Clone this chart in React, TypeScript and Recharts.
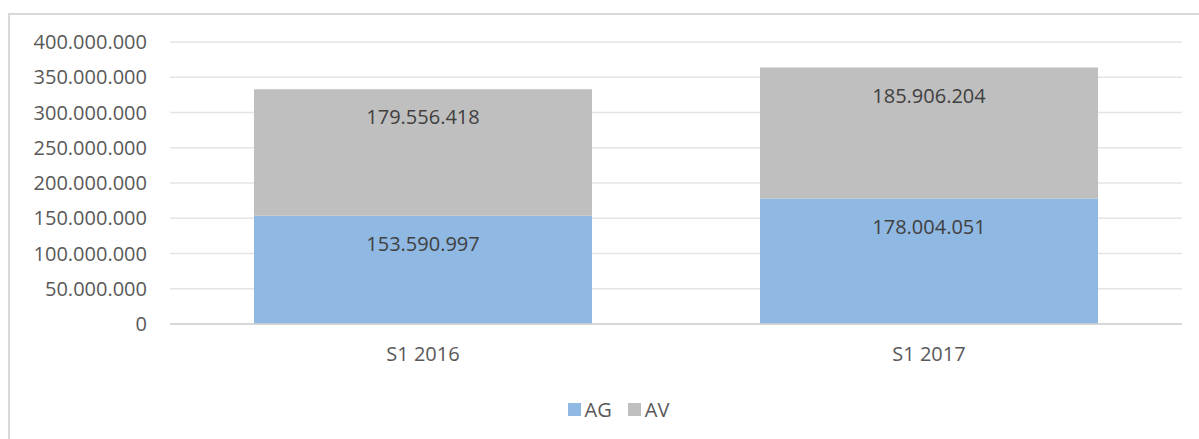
import React from "react";
import {
  BarChart,
  Bar,
  XAxis,
  YAxis,
  CartesianGrid,
  Legend,
  LabelList,
} from "recharts";

const periods = ["S1 2016", "S1 2017"];
const agValues = [153590997, 178004051];
const avValues = [179556418, 185906204];
const yTicks = [0, 50000000, 100000000, 150000000, 200000000, 250000000, 300000000, 350000000, 400000000];

const seriesColors: Record<string, string> = {
  AG: "#8FB8E2",
  AV: "#BFBFBF",
};

const chartData = periods.map((p, i) => ({
  period: p,
  AG: agValues[i],
  AV: avValues[i],
}));

// dotted thousands, like 153.590.997
const fmt = (v: any) =>
  String(Math.round(Number(v))).replace(/\B(?=(\d{3})+(?!\d))/g, ".");

const FONT = "'Open Sans', 'DejaVu Sans', sans-serif";

const renderLegend = () => (
  <div
    style={{
      display: "flex",
      justifyContent: "center",
      gap: 16,
      fontFamily: FONT,
      fontSize: 20,
      color: "#595959",
      paddingLeft: 28,
    }}
  >
    {Object.keys(seriesColors).map((name) => (
      <div key={name} style={{ display: "flex", alignItems: "center", gap: 4 }}>
        <span
          style={{
            display: "inline-block",
            width: 13,
            height: 13,
            background: seriesColors[name],
          }}
        />
        <span>{name}</span>
      </div>
    ))}
  </div>
);

const App: React.FC = () => {
  return (
    <div
      style={{
        position: "absolute",
        left: 8,
        top: 13,
        width: 1191,
        height: 426,
        borderLeft: "2px solid #D9D9D9",
        borderTop: "2px solid #D9D9D9",
        background: "#fff",
        overflow: "hidden",
      }}
    >
      <BarChart
        width={1189}
        height={424}
        data={chartData}
        margin={{ top: 27, right: 17, left: 0, bottom: 85 }}
        barCategoryGap="16.6%"
      >
        <CartesianGrid vertical={false} stroke="#E4E4E4" strokeWidth={1.5} />
        <XAxis
          dataKey="period"
          height={30}
          axisLine={{ stroke: "#D0D0D0", strokeWidth: 1.5 }}
          tickLine={false}
          tickSize={0}
          tickMargin={23}
          tick={{ fill: "#595959", fontSize: 20, fontFamily: FONT }}
        />
        <YAxis
          width={160}
          domain={[0, 400000000]}
          ticks={yTicks}
          axisLine={false}
          tickLine={false}
          tickSize={0}
          tickMargin={23}
          tickFormatter={fmt}
          tick={{ fill: "#595959", fontSize: 20, fontFamily: FONT }}
        />
        <Legend
          layout="horizontal"
          verticalAlign="middle"
          align="center"
          content={renderLegend}
          wrapperStyle={{ top: 381, left: 0, width: 1189 }}
        />
        <Bar dataKey="AG" stackId="a" fill={seriesColors.AG} isAnimationActive={false}>
          <LabelList
            dataKey="AG"
            position="insideTop"
            offset={21}
            formatter={fmt}
            style={{ fill: "#404040", fontSize: 20, fontFamily: FONT }}
          />
        </Bar>
        <Bar dataKey="AV" stackId="a" fill={seriesColors.AV} isAnimationActive={false}>
          <LabelList
            dataKey="AV"
            position="insideTop"
            offset={21}
            formatter={fmt}
            style={{ fill: "#404040", fontSize: 20, fontFamily: FONT }}
          />
        </Bar>
      </BarChart>
    </div>
  );
};

export default App;
